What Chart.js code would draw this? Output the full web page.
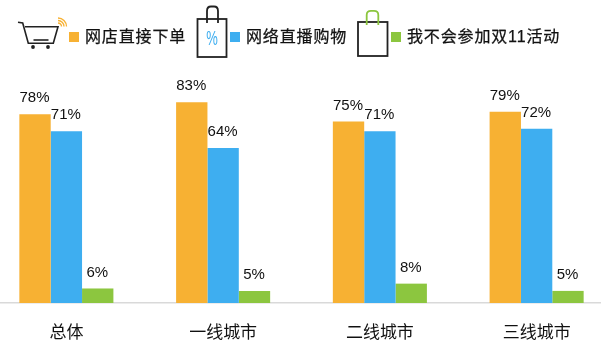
<!DOCTYPE html>
<html>
<head>
<meta charset="utf-8">
<script src="https://cdn.jsdelivr.net/npm/chart.js@4"></script>
<style>
  html, body { margin: 0; padding: 0; background: #fff; overflow: hidden; }
  #wrap { position: relative; width: 601px; height: 354px; overflow: hidden; }
  #chartBox { position: absolute; left: -12px; top: 0; width: 627px; height: 354px; }
  #icons { position: absolute; left: 0; top: 0; }
  .key { position: absolute; top: 32px; width: 10px; height: 10px; }
  .keyText { position: absolute; top: 25px; font: 16px 'Liberation Sans', 'Noto Sans CJK SC', sans-serif; line-height: 24px; color: #111; letter-spacing: .85px; white-space: nowrap; -webkit-text-stroke: .25px #111; }
</style>
</head>
<body>
<div id="wrap">
  <div id="chartBox"><canvas id="shopChart"></canvas></div>
  <svg id="icons" width="601" height="70" fill="none">
    <!-- cart -->
    <g stroke="#222" stroke-width="1.6">
      <path d="M18 22.3 L22.7 23 L28.3 43.3 L53.3 43.3 L58 26.7 L25 26.7"/>
      <path d="M33.5 40 L48.5 40"/>
    </g>
    <circle cx="33" cy="47" r="1.9" fill="#222"/>
    <circle cx="48" cy="47" r="1.9" fill="#222"/>
    <g stroke="#f7b133" stroke-width="1.3">
      <path d="M58 23 A3.5 3.5 0 0 1 61.5 26.5"/>
      <path d="M58 20.5 A6 6 0 0 1 64 26.5"/>
      <path d="M58 18 A8.5 8.5 0 0 1 66.5 26.5"/>
    </g>
    <!-- bag with percent -->
    <rect x="197.5" y="19" width="29" height="38" stroke="#222" stroke-width="1.8"/>
    <path d="M207 23 L207 11 Q207 6.5 211 6.5 L214 6.5 Q218 6.5 218 11 L218 23" stroke="#222" stroke-width="1.8"/>
    <!-- plain bag -->
    <rect x="358" y="22" width="29.5" height="34" stroke="#222" stroke-width="1.8"/>
    <path d="M366.7 25 L366.7 15 Q366.7 10.8 371 10.8 L374 10.8 Q378.3 10.8 378.3 15 L378.3 25" stroke="#8cc63f" stroke-width="1.8"/>
  </svg>
  <div style="position:absolute;left:202px;top:27px;font:20px 'Liberation Sans',sans-serif;color:#3eaef0;transform:scaleX(.65);width:20px;text-align:center;">%</div>
  <div class="key" style="left:69px;background:#f7b133"></div>
  <div class="keyText" style="left:85px" id="key0"></div>
  <div class="key" style="left:230px;background:#3eaef0"></div>
  <div class="keyText" style="left:246px" id="key1"></div>
  <div class="key" style="left:391px;background:#8cc63f"></div>
  <div class="keyText" style="left:407px" id="key2"></div>
</div>
<script>
// ---- Data ----
const categories = ['总体', '一线城市', '二线城市', '三线城市'];
const seriesNames = ['网店直接下单', '网络直播购物', '我不会参加双11活动'];
const onlineStore = [78, 83, 75, 79];
const liveStream = [71, 64, 71, 72];
const notJoining = [6, 5, 8, 5];

const cjkFont = "'Liberation Sans', 'Noto Sans CJK SC', sans-serif";

seriesNames.forEach((name, i) => { document.getElementById('key' + i).textContent = name; });

// ---- Percent labels above the bars ----
const barLabels = {
  id: 'barLabels',
  afterDatasetsDraw(chart) {
    const { ctx } = chart;
    ctx.save();
    ctx.font = '15px ' + cjkFont;
    ctx.fillStyle = '#111';
    ctx.textAlign = 'center';
    ctx.textBaseline = 'middle';
    chart.data.datasets.forEach((ds, i) => {
      chart.getDatasetMeta(i).data.forEach((bar, j) => {
        ctx.fillText(ds.data[j] + '%', bar.x - 0.5, bar.y - 16);
      });
    });
    ctx.restore();
  }
};

new Chart(document.getElementById('shopChart'), {
  type: 'bar',
  data: {
    labels: categories,
    datasets: [
      { label: seriesNames[0], data: onlineStore, backgroundColor: '#f7b133' },
      { label: seriesNames[1], data: liveStream, backgroundColor: '#3eaef0' },
      { label: seriesNames[2], data: notJoining, backgroundColor: '#8cc63f' }
    ]
  },
  options: {
    responsive: true, maintainAspectRatio: false, animation: false,
    categoryPercentage: 0.6, barPercentage: 1,
    layout: { padding: { top: 61, left: 0, right: 0, bottom: 0 } },
    plugins: { legend: { display: false }, tooltip: { enabled: false } },
    scales: {
      x: {
        grid: { display: false },
        border: { color: '#d9d9d9', width: 1.5 },
        ticks: { color: '#111', font: { size: 17, family: cjkFont }, padding: 12, maxRotation: 0 },
        afterFit(scale) { scale.height = 51; }
      },
      y: { display: false, min: 0, max: 100 }
    }
  },
  plugins: [barLabels]
});
</script>
</body>
</html>
